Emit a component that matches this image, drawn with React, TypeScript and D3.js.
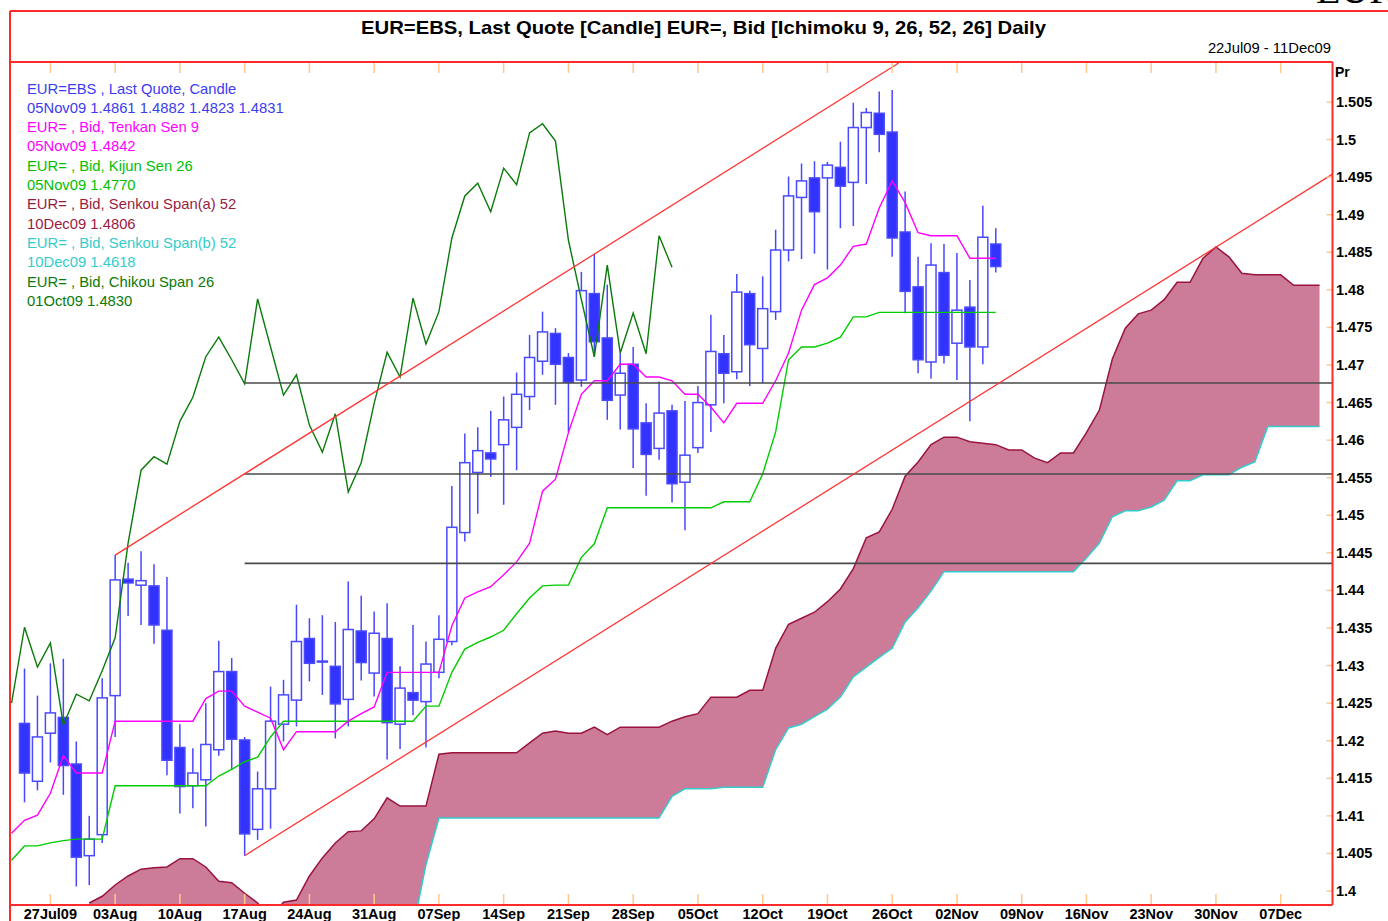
import React from "react";
import * as d3 from "d3";

const W = 1388;
const H = 921;
const PLOT = { left: 10, right: 1332.5, top: 62, bottom: 905 };
const LAST_INDEX = 102; // 11Dec09, index 0 = 22Jul09 (trading days)

const weekTickIndex = [3, 8, 13, 18, 23, 28, 33, 38, 43, 48, 53, 58, 63, 68, 73, 78, 83, 88, 93, 98];
const weekLabels = ["27Jul09", "03Aug", "10Aug", "17Aug", "24Aug", "31Aug", "07Sep", "14Sep", "21Sep", "28Sep", "05Oct", "12Oct", "19Oct", "26Oct", "02Nov", "09Nov", "16Nov", "23Nov", "30Nov", "07Dec"];

const priceTicks = [1.4, 1.405, 1.41, 1.415, 1.42, 1.425, 1.43, 1.435, 1.44, 1.445, 1.45, 1.455, 1.46, 1.465, 1.47, 1.475, 1.48, 1.485, 1.49, 1.495, 1.5, 1.505];
const priceTickLabels = ["1.4", "1.405", "1.41", "1.415", "1.42", "1.425", "1.43", "1.435", "1.44", "1.445", "1.45", "1.455", "1.46", "1.465", "1.47", "1.475", "1.48", "1.485", "1.49", "1.495", "1.5", "1.505"];

// Candles: 23Jul09 (index 1) .. 05Nov09 (index 76)
const candleStart = 1;
const opens = [
  1.4223, 1.4146, 1.4210, 1.4231, 1.4169, 1.4047, 1.4075, 1.4260, 1.4415, 1.4407,
  1.4406, 1.4347, 1.4191, 1.4140, 1.4148, 1.4188, 1.4292, 1.4201, 1.4082, 1.4136,
  1.4222, 1.4254, 1.4336, 1.4306, 1.4299, 1.4255, 1.4346, 1.4290, 1.4336, 1.4222,
  1.4264, 1.4252, 1.4291, 1.4332, 1.4477, 1.4557, 1.4583, 1.4594, 1.4617, 1.4658,
  1.4705, 1.4742, 1.4710, 1.4680, 1.4795, 1.4736, 1.4660, 1.4701, 1.4623, 1.4589,
  1.4639, 1.4544, 1.4590, 1.4647, 1.4715, 1.4691, 1.4795, 1.4722, 1.4771, 1.4853,
  1.4923, 1.4949, 1.4949, 1.4963, 1.4943, 1.5016, 1.5035, 1.5010, 1.4877, 1.4804,
  1.4704, 1.4823, 1.4729, 1.4777, 1.4724, 1.4861,
];
const highs = [
  1.4296, 1.4260, 1.4303, 1.4309, 1.4199, 1.4100, 1.4283, 1.4447, 1.4437, 1.4452,
  1.4435, 1.4418, 1.4222, 1.4190, 1.4250, 1.4333, 1.4310, 1.4205, 1.4159, 1.4272,
  1.4281, 1.4381, 1.4363, 1.4367, 1.4358, 1.4412, 1.4393, 1.4372, 1.4383, 1.4299,
  1.4354, 1.4332, 1.4367, 1.4539, 1.4609, 1.4617, 1.4639, 1.4658, 1.4690, 1.4740,
  1.4771, 1.4749, 1.4716, 1.4824, 1.4848, 1.4807, 1.4716, 1.4724, 1.4649, 1.4678,
  1.4647, 1.4652, 1.4672, 1.4767, 1.4740, 1.4821, 1.4799, 1.4818, 1.4880, 1.4951,
  1.4968, 1.4971, 1.4970, 1.4997, 1.5049, 1.5042, 1.5064, 1.5066, 1.4931, 1.4844,
  1.4862, 1.4861, 1.4849, 1.4813, 1.4912, 1.4882,
];
const lows = [
  1.4118, 1.4134, 1.4171, 1.4128, 1.4006, 1.4008, 1.4064, 1.4205, 1.4366, 1.4354,
  1.4329, 1.4154, 1.4103, 1.4110, 1.4086, 1.4180, 1.4161, 1.4047, 1.4068, 1.4083,
  1.4199, 1.4219, 1.4279, 1.4261, 1.4203, 1.4219, 1.4280, 1.4259, 1.4175, 1.4189,
  1.4234, 1.4191, 1.4283, 1.4327, 1.4465, 1.4502, 1.4551, 1.4514, 1.4560, 1.4640,
  1.4687, 1.4647, 1.4611, 1.4671, 1.4711, 1.4627, 1.4614, 1.4563, 1.4526, 1.4574,
  1.4517, 1.4480, 1.4583, 1.4611, 1.4649, 1.4681, 1.4672, 1.4676, 1.4760, 1.4838,
  1.4841, 1.4848, 1.4827, 1.4882, 1.4885, 1.4941, 1.4983, 1.4844, 1.4769, 1.4689,
  1.4682, 1.4702, 1.4680, 1.4625, 1.4701, 1.4823,
];
const closes = [
  1.4157, 1.4205, 1.4237, 1.4167, 1.4045, 1.4069, 1.4257, 1.4414, 1.4410, 1.4413,
  1.4354, 1.4174, 1.4139, 1.4157, 1.4195, 1.4292, 1.4202, 1.4076, 1.4136, 1.4226,
  1.4261, 1.4332, 1.4303, 1.4305, 1.4249, 1.4348, 1.4304, 1.4343, 1.4224, 1.4270,
  1.4254, 1.4302, 1.4335, 1.4484, 1.4570, 1.4586, 1.4575, 1.4627, 1.4661, 1.4710,
  1.4744, 1.4701, 1.4677, 1.4799, 1.4731, 1.4653, 1.4689, 1.4615, 1.4581, 1.4636,
  1.4542, 1.4580, 1.4650, 1.4718, 1.4689, 1.4797, 1.4727, 1.4775, 1.4853, 1.4925,
  1.4945, 1.4904, 1.4966, 1.4938, 1.5016, 1.5036, 1.5007, 1.4869, 1.4798, 1.4707,
  1.4833, 1.4713, 1.4773, 1.4724, 1.4870, 1.4831,
];

// Tenkan Sen 9 (index 0..76)
const tenkanStart = 0;
const tenkan = [
  1.4077, 1.4094, 1.4101, 1.4130, 1.4180, 1.4157, 1.4157, 1.4157, 1.4226, 1.4226,
  1.4226, 1.4226, 1.4226, 1.4226, 1.4226, 1.4256, 1.4266, 1.4266, 1.4246, 1.4238,
  1.4230, 1.4188, 1.4212, 1.4212, 1.4212, 1.4212, 1.4226, 1.4236, 1.4245, 1.4291,
  1.4291, 1.4291, 1.4291, 1.4291, 1.4353, 1.4390, 1.4398, 1.4405, 1.4421, 1.4438,
  1.4463, 1.4532, 1.4548, 1.4610, 1.4661, 1.4679, 1.4679, 1.4701, 1.4701, 1.4684,
  1.4684, 1.4679, 1.4661, 1.4661, 1.4644, 1.4623, 1.4649, 1.4649, 1.4649, 1.4679,
  1.4716, 1.4773, 1.4807, 1.4816, 1.4833, 1.4858, 1.4861, 1.4909, 1.4945, 1.4916,
  1.4876, 1.4872, 1.4872, 1.4872, 1.4842, 1.4842, 1.4842,
];

// Kijun Sen 26 (index 0..76)
const kijunStart = 0;
const kijun = [
  1.4041, 1.4060, 1.4060, 1.4064, 1.4067, 1.4069, 1.4069, 1.4069, 1.4140, 1.4140,
  1.4140, 1.4140, 1.4140, 1.4140, 1.4140, 1.4140, 1.4153, 1.4162, 1.4172, 1.4178,
  1.4205, 1.4226, 1.4226, 1.4226, 1.4226, 1.4226, 1.4226, 1.4226, 1.4226, 1.4226,
  1.4226, 1.4226, 1.4246, 1.4246, 1.4291, 1.4322, 1.4331, 1.4338, 1.4347, 1.4369,
  1.4390, 1.4406, 1.4407, 1.4407, 1.4444, 1.4462, 1.4510, 1.4510, 1.4510, 1.4510,
  1.4510, 1.4510, 1.4510, 1.4510, 1.4510, 1.4518, 1.4518, 1.4518, 1.4555, 1.4611,
  1.4707, 1.4724, 1.4724, 1.4729, 1.4737, 1.4764, 1.4764, 1.4770, 1.4770, 1.4770,
  1.4770, 1.4770, 1.4770, 1.4770, 1.4770, 1.4770, 1.4770,
];

// Chikou Span 26 (index 0..51, i.e. 22Jul09 .. 01Oct09)
const chikouStart = 0;
const chikou = [
  1.4250, 1.4351, 1.4298, 1.4330, 1.4221, 1.4262, 1.4253, 1.4293, 1.4337, 1.4463,
  1.4560, 1.4578, 1.4568, 1.4625, 1.4657, 1.4711, 1.4737, 1.4707, 1.4675, 1.4788,
  1.4724, 1.4660, 1.4687, 1.4620, 1.4584, 1.4635, 1.4531, 1.4570, 1.4649, 1.4717,
  1.4684, 1.4789, 1.4728, 1.4771, 1.4869, 1.4925, 1.4942, 1.4904, 1.4962, 1.4940,
  1.5009, 1.5021, 1.4998, 1.4866, 1.4787, 1.4711, 1.4833, 1.4716, 1.4769, 1.4715,
  1.4872, 1.4830,
];

// Senkou Span (a) 52 (index 6..101)
const spanAStart = 6;
const spanA = [
  1.3984, 1.3993, 1.4008, 1.4020, 1.4029, 1.4031, 1.4032, 1.4043, 1.4043, 1.4032,
  1.4013, 1.4011, 1.3997, 1.3984, 1.3965, 1.3985, 1.3988, 1.4020, 1.4044, 1.4064,
  1.4079, 1.4080, 1.4096, 1.4124, 1.4113, 1.4113, 1.4113, 1.4182, 1.4184, 1.4184,
  1.4184, 1.4184, 1.4184, 1.4184, 1.4197, 1.4210, 1.4213, 1.4210, 1.4210, 1.4218,
  1.4208, 1.4218, 1.4218, 1.4218, 1.4218, 1.4226, 1.4232, 1.4236, 1.4258, 1.4258,
  1.4258, 1.4267, 1.4267, 1.4323, 1.4355, 1.4363, 1.4371, 1.4385, 1.4402, 1.4429,
  1.4470, 1.4478, 1.4508, 1.4552, 1.4571, 1.4594, 1.4604, 1.4604, 1.4598, 1.4596,
  1.4594, 1.4587, 1.4587, 1.4576, 1.4570, 1.4583, 1.4583, 1.4610, 1.4640, 1.4708,
  1.4749, 1.4768, 1.4773, 1.4787, 1.4810, 1.4810, 1.4842, 1.4857, 1.4844, 1.4822,
  1.4820, 1.4820, 1.4820, 1.4806, 1.4806, 1.4806,
];

// Senkou Span (b) 52 (index 31..101)
const spanBStart = 31;
const spanB = [
  1.3950, 1.4035, 1.4097, 1.4097, 1.4097, 1.4097, 1.4097, 1.4097, 1.4097, 1.4097,
  1.4097, 1.4097, 1.4097, 1.4097, 1.4097, 1.4097, 1.4097, 1.4097, 1.4097, 1.4097,
  1.4126, 1.4136, 1.4136, 1.4136, 1.4138, 1.4138, 1.4138, 1.4138, 1.4188, 1.4217,
  1.4222, 1.4232, 1.4242, 1.4258, 1.4285, 1.4298, 1.4311, 1.4323, 1.4358, 1.4377,
  1.4399, 1.4425, 1.4425, 1.4425, 1.4425, 1.4425, 1.4425, 1.4425, 1.4425, 1.4425,
  1.4425, 1.4425, 1.4443, 1.4463, 1.4498, 1.4506, 1.4506, 1.4511, 1.4520, 1.4546,
  1.4546, 1.4554, 1.4554, 1.4554, 1.4564, 1.4571, 1.4618, 1.4618, 1.4618, 1.4618,
  1.4618,
];

// Drawn annotations
const hLevels = [1.4676, 1.4555, 1.4436];
const hLevelStartIndex = 18;
const trendStartIndex = [8, 18];
const trendStartPrice = [1.4447, 1.4047];
const trendEndIndex = [68.5, 102];
const trendEndPrice = [1.5102, 1.4954];

const legendLines = [
  "EUR=EBS , Last Quote, Candle",
  "05Nov09 1.4861 1.4882 1.4823 1.4831",
  "EUR= , Bid, Tenkan Sen 9",
  "05Nov09 1.4842",
  "EUR= , Bid, Kijun Sen 26",
  "05Nov09 1.4770",
  "EUR= , Bid, Senkou Span(a) 52",
  "10Dec09 1.4806",
  "EUR= , Bid, Senkou Span(b) 52",
  "10Dec09 1.4618",
  "EUR= , Bid, Chikou Span 26",
  "01Oct09 1.4830",
];
const legendColors = ["#3C3CF0", "#3C3CF0", "#FF00FF", "#FF00FF", "#00BF00", "#00BF00", "#9B1B3F", "#9B1B3F", "#33CCCC", "#33CCCC", "#0A7A0A", "#0A7A0A"];

const FONT = "'Liberation Sans', Arial, Helvetica, sans-serif";
const RED = "#FF2A2A";
const TICK = "#FFC890";

export default function App() {
  const x = d3.scaleLinear().domain([0, LAST_INDEX]).range([11.55, PLOT.right]);
  const y = d3.scaleLinear().domain([1.4, 1.505]).range([891, 102]);

  const toPts = (arr: number[], start: number) => arr.map((v, k) => [start + k, v] as [number, number]);
  const line = d3.line<[number, number]>().x((d) => x(d[0])).y((d) => y(d[1]));

  // cloud: between span A and span B (span B below view before it starts)
  const cloudPts = spanA.map((a, k) => {
    const i = spanAStart + k;
    const bk = i - spanBStart;
    const b = bk >= 0 && bk < spanB.length ? spanB[bk] : 1.39;
    return { i, a, b };
  });
  const cloudArea = d3
    .area<{ i: number; a: number; b: number }>()
    .x((d) => x(d.i))
    .y0((d) => y(d.b))
    .y1((d) => y(d.a));

  const bodyW = 10;

  return (
    <svg width={W} height={H} style={{ position: "absolute", left: 0, top: 0, background: "#fff" }} fontFamily={FONT}>
      <defs>
        <clipPath id="plotClip">
          <rect x={PLOT.left} y={PLOT.top} width={PLOT.right - PLOT.left} height={PLOT.bottom - PLOT.top} />
        </clipPath>
      </defs>
      <rect x={0} y={0} width={W} height={H} fill="#fff" />

      {/* cut-off top-right text (partly outside the page, as in the source) */}
      <text x={1316} y={3} fontFamily="'Liberation Serif', 'DejaVu Serif', serif" fontSize={40} fill="#000">EUR</text>

      {/* title */}
      <text x={703.5} y={33.5} textAnchor="middle" fontSize={19} fontWeight="bold" fill="#000" textLength={685} lengthAdjust="spacingAndGlyphs">
        EUR=EBS, Last Quote [Candle] EUR=, Bid [Ichimoku 9, 26, 52, 26] Daily
      </text>
      <text x={1331} y={52.5} textAnchor="end" fontSize={14.8} fill="#000">22Jul09 - 11Dec09</text>

      <g clipPath="url(#plotClip)">
        {/* cloud */}
        <path d={cloudArea(cloudPts) || ""} fill="#CC7B99" stroke="none" />
        <path d={line(toPts(spanA, spanAStart)) || ""} fill="none" stroke="#99143C" strokeWidth={1.5} />
        <path d={line(toPts(spanB, spanBStart)) || ""} fill="none" stroke="#33CCCC" strokeWidth={1.5} />

        {/* candles */}
        {opens.map((o, k) => {
          const i = candleStart + k;
          const c = closes[k];
          const cx = x(i);
          const up = c >= o;
          const top = y(Math.max(o, c));
          const bot = y(Math.min(o, c));
          return (
            <g key={i}>
              <line x1={cx} x2={cx} y1={y(highs[k])} y2={y(lows[k])} stroke="#4747FF" strokeWidth={1.5} />
              <rect
                x={cx - bodyW / 2}
                y={top}
                width={bodyW}
                height={Math.max(bot - top, 1)}
                fill={up ? "#FFFFFF" : "#3333FF"}
                stroke="#4A4AFF"
                strokeWidth={1.5}
              />
            </g>
          );
        })}

        {/* ichimoku lines */}
        <path d={line(toPts(chikou, chikouStart)) || ""} fill="none" stroke="#0A7A0A" strokeWidth={1.4} />
        <path d={line(toPts(kijun, kijunStart)) || ""} fill="none" stroke="#00CC00" strokeWidth={1.4} />
        <path d={line(toPts(tenkan, tenkanStart)) || ""} fill="none" stroke="#FF00FF" strokeWidth={1.4} />

        {/* horizontal levels */}
        {hLevels.map((v, k) => (
          <line key={k} x1={x(hLevelStartIndex)} x2={PLOT.right} y1={y(v)} y2={y(v)} stroke="#4A4A4A" strokeWidth={1.6} />
        ))}

        {/* trend lines */}
        {trendStartIndex.map((s, k) => (
          <line
            key={k}
            x1={x(s)}
            y1={y(trendStartPrice[k])}
            x2={x(trendEndIndex[k])}
            y2={y(trendEndPrice[k])}
            stroke="#FF3333"
            strokeWidth={1.3}
          />
        ))}
      </g>

      {/* legend */}
      {legendLines.map((t, k) => (
        <text key={k} x={27} y={93.5 + k * 19.3} fontSize={14.8} fill={legendColors[k]}>
          {t}
        </text>
      ))}

      {/* x ticks */}
      {weekTickIndex.map((i, k) => (
        <g key={k}>
          <line x1={x(i)} x2={x(i)} y1={PLOT.top + 1} y2={PLOT.top + 11} stroke={TICK} strokeWidth={1.5} />
          <line x1={x(i)} x2={x(i)} y1={PLOT.bottom - 11} y2={PLOT.bottom - 1} stroke={TICK} strokeWidth={1.5} />
          <text x={x(i)} y={918.5} textAnchor="middle" fontSize={14.5} fontWeight="bold" fill="#000">
            {weekLabels[k]}
          </text>
        </g>
      ))}

      {/* y ticks */}
      {priceTicks.map((v, k) => (
        <g key={k}>
          <line x1={PLOT.right - 6} x2={PLOT.right} y1={y(v)} y2={y(v)} stroke={TICK} strokeWidth={1.5} />
          <text x={1336} y={y(v) + 5} fontSize={14.5} fontWeight="bold" fill="#000">
            {priceTickLabels[k]}
          </text>
        </g>
      ))}
      <text x={1335} y={77} fontSize={14} fontWeight="bold" fill="#000">Pr</text>

      {/* frame */}
      <line x1={PLOT.left} x2={W} y1={11} y2={11} stroke={RED} strokeWidth={2} />
      <line x1={PLOT.left} x2={PLOT.left} y1={11} y2={H} stroke={RED} strokeWidth={2} />
      <line x1={PLOT.left} x2={PLOT.right} y1={PLOT.top} y2={PLOT.top} stroke={RED} strokeWidth={2} />
      <line x1={PLOT.left} x2={PLOT.right} y1={PLOT.bottom} y2={PLOT.bottom} stroke={RED} strokeWidth={2} />
      <line x1={PLOT.right} x2={PLOT.right} y1={PLOT.top} y2={PLOT.bottom} stroke={RED} strokeWidth={2} />
    </svg>
  );
}
